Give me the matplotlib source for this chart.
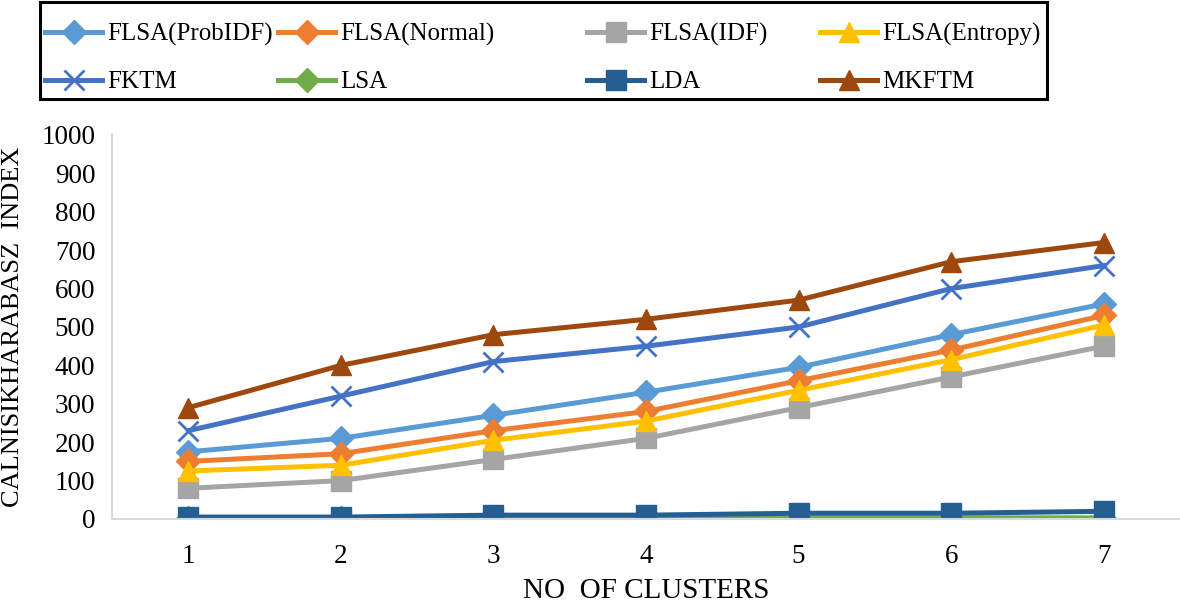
import matplotlib.pyplot as plt
from matplotlib.lines import Line2D
from matplotlib.patches import Rectangle

plt.rcParams['font.family'] = ['Liberation Serif', 'DejaVu Serif']

clusters = [1, 2, 3, 4, 5, 6, 7]

flsa_probidf = [175, 210, 270, 330, 395, 480, 560]
flsa_normal = [150, 170, 230, 280, 360, 440, 530]
flsa_idf = [80, 100, 155, 210, 290, 370, 450]
flsa_entropy = [125, 140, 205, 255, 335, 415, 505]
fktm = [230, 320, 410, 450, 500, 600, 660]
lsa = [2, 2, 2, 3, 3, 3, 3]
lda = [5, 5, 10, 10, 15, 15, 20]
mkftm = [290, 400, 480, 520, 570, 670, 720]

series = [
    ('FLSA(ProbIDF)', flsa_probidf, '#5B9BD5', 'D', 12),
    ('FLSA(Normal)', flsa_normal, '#ED7D31', 'D', 12),
    ('FLSA(IDF)', flsa_idf, '#A5A5A5', 's', 15),
    ('FLSA(Entropy)', flsa_entropy, '#FFC000', '^', 15),
    ('FKTM', fktm, '#4472C4', 'x', 14),
    ('LSA', lsa, '#70AD47', 'D', 12),
    ('LDA', lda, '#255E91', 's', 15),
    ('MKFTM', mkftm, '#9E480E', '^', 15),
]

W, H = 1180, 603
fig = plt.figure(figsize=(W / 100, H / 100), dpi=100)
ax = fig.add_axes([112 / W, 84 / H, 1 - 112 / W, 384 / H])

for name, vals, color, marker, ms in series:
    mew = 2 if marker == 'x' else 1
    ax.plot(clusters, vals, label=name, color=color, marker=marker,
            markersize=ms, linewidth=3.6, markeredgewidth=mew)

ax.set_xlim(0.5, 7.5)
ax.set_ylim(0, 1000)
ax.set_yticks(range(0, 1001, 100))
ax.set_xticks(clusters)
ax.tick_params(length=0, labelsize=19.5)
ax.tick_params(axis='x', pad=18)
ax.tick_params(axis='y', pad=12)

for side in ['top', 'right']:
    ax.spines[side].set_visible(False)
for side in ['left', 'bottom']:
    ax.spines[side].set_color('#D9D9D9')
    ax.spines[side].set_linewidth(1.5)

ax.set_ylabel('CALNISIKHARABASZ  INDEX', fontsize=19)
ax.set_xlabel('NO  OF CLUSTERS', fontsize=21)
ax.yaxis.set_label_coords(-0.082, 0.5)
ax.xaxis.set_label_coords(0.5, -59 / 384)

# legend drawn by hand: 4 columns, filled row by row, one black box
col_x = [45, 278, 587, 820]
row_y = [32, 80]
for i, (name, vals, color, marker, ms) in enumerate(series):
    x0 = col_x[i % 4]
    y0 = 1 - row_y[i // 4] / H
    mew = 2 if marker == 'x' else 1
    fig.add_artist(Line2D([x0 / W, (x0 + 57) / W], [y0, y0],
                          transform=fig.transFigure, color=color,
                          linewidth=3.6))
    fig.add_artist(Line2D([(x0 + 28.5) / W], [y0], transform=fig.transFigure,
                          color=color, marker=marker, markersize=ms,
                          markeredgewidth=mew, linestyle='none'))
    fig.text((x0 + 62) / W, y0, name, fontsize=18, ha='left', va='center_baseline')

fig.add_artist(Rectangle((40 / W, 1 - 99 / H), 1007 / W, 97 / H,
                         transform=fig.transFigure, fill=False,
                         edgecolor='black', linewidth=2.2))

fig.savefig('out.png', dpi=100)
